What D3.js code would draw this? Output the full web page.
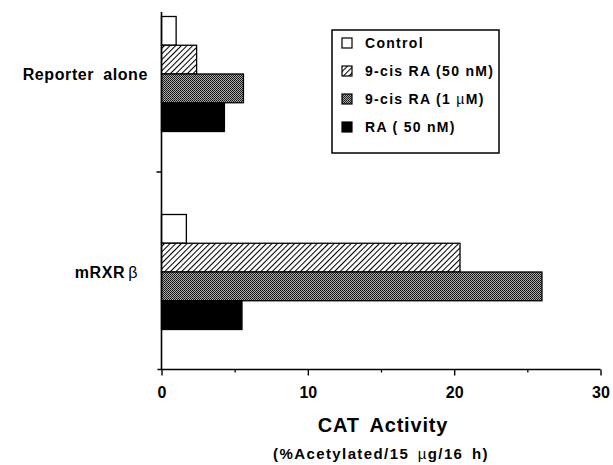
<!DOCTYPE html>
<html><head><meta charset="utf-8">
<script src="https://cdn.jsdelivr.net/npm/d3@7"></script>
<style>body{margin:0;background:#fff}svg{display:block}text{font-family:"Liberation Sans",Arial,sans-serif}</style>
</head><body>
<script>
const categories = ["Reporter alone", "mRXR"];
const series = ["Control", "9-cis RA (50 nM)", "9-cis RA (1 \u00b5M)", "RA ( 50 nM)"];
const control = [1.0, 1.7];
const cis50 = [2.4, 20.4];
const cis1 = [5.6, 26.0];
const ra50 = [4.3, 5.5];
const xTicks = [0, 10, 20, 30];
const xMinorTicks = [5, 15, 25];

const values = [control, cis50, cis1, ra50];
const W = 613, H = 465;
const svg = d3.select("body").append("svg").attr("width", W).attr("height", H);

const defs = svg.append("defs");
const hatch = defs.append("pattern").attr("id", "hatch").attr("patternUnits", "userSpaceOnUse")
  .attr("width", 4).attr("height", 4).attr("patternTransform", "rotate(45)");
hatch.append("rect").attr("width", 4).attr("height", 4).attr("fill", "#fff");
hatch.append("line").attr("x1", 0.5).attr("y1", 0).attr("x2", 0.5).attr("y2", 4).attr("stroke", "#000").attr("stroke-width", 1.1);
const checker = defs.append("pattern").attr("id", "checker").attr("patternUnits", "userSpaceOnUse")
  .attr("width", 2).attr("height", 2);
checker.append("rect").attr("width", 2).attr("height", 2).attr("fill", "#aaa");
checker.append("rect").attr("width", 1).attr("height", 1).attr("fill", "#111");
checker.append("rect").attr("x", 1).attr("y", 1).attr("width", 1).attr("height", 1).attr("fill", "#222");
const fills = ["#fff", "url(#hatch)", "url(#checker)", "#000"];

const x = d3.scaleLinear().domain([0, 30]).range([161.5, 600.5]);
const y = d3.scaleBand().domain(categories).range([-25, 371]).paddingInner(0);
const groupH = 115;
const yi = d3.scaleBand().domain(series).range([0, groupH]);
const axisY = 369.5;

// bars
categories.forEach((c, ci) => {
  const off = y(c) + (y.bandwidth() - groupH) / 2;
  svg.append("g").selectAll("rect").data(series).join("rect")
    .attr("x", x(0))
    .attr("y", s => off + yi(s))
    .attr("width", (s, si) => x(values[si][ci]) - x(0))
    .attr("height", yi.bandwidth())
    .attr("fill", (s, si) => fills[si])
    .attr("stroke", "#000").attr("stroke-width", 1.3);
});

// y axis line
svg.append("line").attr("x1", x(0)).attr("x2", x(0)).attr("y1", 12).attr("y2", axisY)
  .attr("stroke", "#000").attr("stroke-width", 1.6);
// separator tick between categories
svg.append("line").attr("x1", x(0) - 5).attr("x2", x(0)).attr("y1", y(categories[1]) - 1).attr("y2", y(categories[1]) - 1)
  .attr("stroke", "#000").attr("stroke-width", 1.5);

// x axis
const gx = svg.append("g").attr("transform", `translate(0,${axisY})`)
  .call(d3.axisBottom(x).tickValues(xTicks).tickSize(6).tickSizeOuter(0).tickFormat(d3.format("d")));
gx.select(".domain").attr("stroke-width", 1.6).attr("d", `M${x(0) - 4},0H${x(30)}`);
gx.selectAll(".tick line").attr("stroke-width", 1.4);
gx.selectAll(".tick text").attr("font-size", 16).attr("font-weight", "bold").attr("y", 17)
  .attr("font-family", "Liberation Sans, Arial, sans-serif");
const gm = svg.append("g").attr("transform", `translate(0,${axisY})`)
  .call(d3.axisBottom(x).tickValues(xMinorTicks).tickSize(3).tickFormat(""));
gm.select(".domain").remove();
gm.selectAll(".tick line").attr("stroke-width", 1.3);

// category labels
svg.append("text").attr("x", 148).attr("y", y(categories[0]) + y.bandwidth() / 2 + 6)
  .attr("text-anchor", "end").attr("font-size", 16).attr("font-weight", "bold")
  .attr("letter-spacing", 0.6).attr("word-spacing", 4).text(categories[0]);
const t2 = svg.append("text").attr("x", 138).attr("y", y(categories[1]) + y.bandwidth() / 2 + 6)
  .attr("text-anchor", "end").attr("font-size", 16).attr("letter-spacing", 0.6);
t2.append("tspan").attr("font-weight", "bold").text(categories[1]);
t2.append("tspan").attr("dx", 3).text("\u03b2");

// axis titles
svg.append("text").attr("x", 383).attr("y", 432).attr("text-anchor", "middle")
  .attr("font-size", 20).attr("font-weight", "bold").attr("letter-spacing", 0.8).attr("word-spacing", 4)
  .text("CAT Activity");
const sub = svg.append("text").attr("x", 381).attr("y", 459).attr("text-anchor", "middle")
  .attr("font-size", 15).attr("font-weight", "bold").attr("letter-spacing", 1.4);
sub.append("tspan").text("(%Acetylated/15 ");
sub.append("tspan").attr("font-weight", "normal").attr("dx", 3).text("\u00b5");
sub.append("tspan").text("g/16 ");
sub.append("tspan").attr("dx", 3).text("h)");

// legend
const lg = svg.append("g");
lg.append("rect").attr("x", 332).attr("y", 30).attr("width", 167).attr("height", 123)
  .attr("fill", "#fff").attr("stroke", "#000").attr("stroke-width", 1.5);
const rows = [43, 71, 99, 127];
series.forEach((s, i) => {
  lg.append("rect").attr("x", 342).attr("y", rows[i] - 5).attr("width", 10).attr("height", 10)
    .attr("fill", fills[i]).attr("stroke", "#000").attr("stroke-width", 1.2);
  const t = lg.append("text").attr("x", 365).attr("y", rows[i] + 5)
    .attr("font-size", 14).attr("font-weight", "bold").attr("letter-spacing", 1.3);
  if (s.includes("\u00b5")) {
    t.append("tspan").text("9-cis RA (1 ");
    t.append("tspan").attr("font-weight", "normal").text("\u00b5");
    t.append("tspan").text("M)");
  } else t.text(s);
});
</script>
</body></html>
